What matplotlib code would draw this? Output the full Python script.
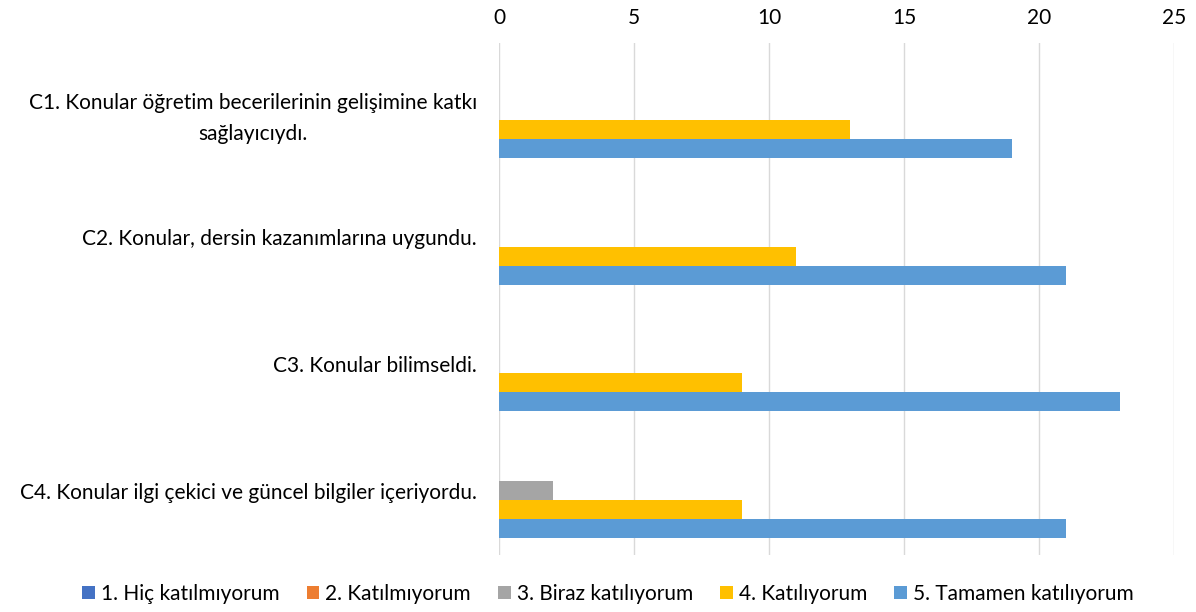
import matplotlib.pyplot as plt
import numpy as np

plt.rcParams["font.family"] = ["Lato", "DejaVu Sans"]

categories = [
    "C1. Konular öğretim becerilerinin gelişimine katkı\nsağlayıcıydı.",
    "C2. Konular, dersin kazanımlarına uygundu.",
    "C3. Konular bilimseldi.",
    "C4. Konular ilgi çekici ve güncel bilgiler içeriyordu.",
]
series_names = [
    "1. Hiç katılmıyorum",
    "2. Katılmıyorum",
    "3. Biraz katılıyorum",
    "4. Katılıyorum",
    "5. Tamamen katılıyorum",
]
hic = [0, 0, 0, 0]
katilmiyorum = [0, 0, 0, 0]
biraz = [0, 0, 0, 2]
katiliyorum = [13, 11, 9, 9]
tamamen = [19, 21, 23, 21]
colors = ["#4472C4", "#ED7D31", "#A5A5A5", "#FFC000", "#5B9BD5"]

values = [hic, katilmiyorum, biraz, katiliyorum, tamamen]

fig = plt.figure(figsize=(11.96, 6.12), dpi=100)
ax = fig.add_axes([499 / 1196, 1 - 555 / 612, 675 / 1196, 512 / 612])

y = np.arange(len(categories))
h = 0.15
for i, (name, vals, c) in enumerate(zip(series_names, values, colors)):
    ax.barh(y + (i - 2) * h, vals, height=h, color=c, label=name, zorder=3)

ax.set_xlim(0, 25)
ax.set_ylim(3.509, -0.533)
ax.set_xticks(range(0, 26, 5))
ax.xaxis.tick_top()
ax.tick_params(axis="x", length=0, pad=11, labelsize=15, colors="#000000")
ax.tick_params(axis="y", length=0, pad=16, labelsize=15)
ax.set_yticks(y)
ax.set_yticklabels(categories, ha="right", multialignment="center", linespacing=1.7)
ax.grid(axis="x", color="#D9D9D9", linewidth=1, zorder=0)
for s in ax.spines.values():
    s.set_visible(False)

ax.legend(loc="center", bbox_to_anchor=(608 / 1196, 1 - 594 / 612),
          bbox_transform=fig.transFigure, ncol=5, frameon=False,
          fontsize=15, handlelength=0.6, handleheight=0.6,
          handletextpad=0.3, columnspacing=1.3)

fig.savefig("out.png", dpi=100)
